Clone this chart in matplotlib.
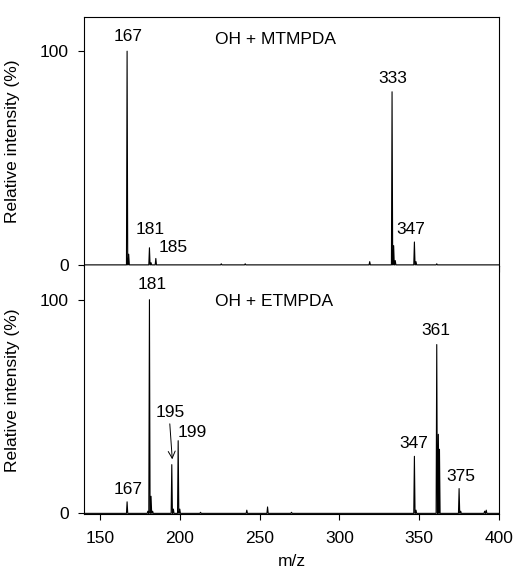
import numpy as np
import matplotlib
matplotlib.use("Agg")
import matplotlib.pyplot as plt

plt.rcParams['font.family'] = ['Liberation Sans', 'DejaVu Sans']
plt.rcParams['font.size'] = 12.5

# OH + MTMPDA peaks (m/z, relative intensity %)
mz_top = [167, 168, 181, 182, 185, 226, 241, 319, 333, 334, 335, 347, 348, 361]
int_top = [100, 5, 8, 1, 3, 0.5, 0.5, 1.5, 81, 9, 2, 10.7, 1.5, 0.5]

# OH + ETMPDA peaks
mz_bot = [167, 180, 181, 182, 183, 195, 196, 199, 200, 213, 242, 255, 270,
          347, 348, 361, 362, 362.7, 375, 376, 391, 392]
int_bot = [5.4, 1, 100, 8, 1, 22.8, 2, 34, 2, 0.5, 1.5, 3, 0.5,
           26.7, 1.5, 79, 37, 30, 11.6, 1, 1, 1.5]

labels_top = ["167", "181", "185", "333", "347"]
labels_bot = ["181", "195", "199", "167", "347", "361", "375"]

x_ticks = [150, 200, 250, 300, 350, 400]
y_ticks = [0, 100]


def profile(mz, inten, lo=140, hi=400, hw=0.4):
    xs = [lo]
    ys = [0]
    for m, h in sorted(zip(mz, inten)):
        xs += [m - hw, m, m + hw]
        ys += [0, h, 0]
    xs.append(hi)
    ys.append(0)
    return xs, ys


fig = plt.figure(figsize=(5.14, 5.76), dpi=100)
left, right = 84 / 514, 499 / 514
ax1 = fig.add_axes([left, 1 - 265.5 / 576, right - left, (265.5 - 17) / 576])
ax2 = fig.add_axes([left, 1 - 514 / 576, right - left, (514 - 265.5) / 576])

for ax, mz, it in [(ax1, mz_top, int_top), (ax2, mz_bot, int_bot)]:
    xs, ys = profile(mz, it)
    ax.plot(xs, ys, color='black', lw=0.8)
    ax.set_xlim(140, 400)
    ax.set_ylim(-0.3, 116)
    ax.set_yticks(y_ticks)
    ax.set_xticks(x_ticks)
    ax.tick_params(direction='out', length=4, width=0.8)
    ax.tick_params(axis='y', pad=7)
    ax.tick_params(axis='x', pad=8)
    for s in ax.spines.values():
        s.set_linewidth(0.8)
    ax.set_ylabel("Relative intensity (%)")
    ax.yaxis.set_label_coords(-0.154, 0.5)

ax1.tick_params(axis='x', labelbottom=False)
ax2.spines['top'].set_visible(False)
ax2.set_xlabel("m/z")
ax2.xaxis.set_label_coords(0.5, -0.16)

# Top panel annotations
ax1.text(167.5, 107, labels_top[0], ha='center', va='center')
ax1.text(181.25, 16.6, labels_top[1], ha='center', va='center')
ax1.text(195.6, 8.2, labels_top[2], ha='center', va='center')
ax1.text(333.75, 87.4, labels_top[3], ha='center', va='center')
ax1.text(345, 16.6, labels_top[4], ha='center', va='center')
ax1.text(221.9, 105.6, "OH + MTMPDA", ha='left', va='center')

# Bottom panel annotations
ax2.text(182.5, 107, labels_bot[0], ha='center', va='center')
ax2.text(193.75, 47, labels_bot[1], ha='center', va='center')
ax2.text(208, 37.7, labels_bot[2], ha='center', va='center')
ax2.text(167.5, 11.2, labels_bot[3], ha='center', va='center')
ax2.text(346.9, 32.6, labels_bot[4], ha='center', va='center')
ax2.text(360.6, 85.6, labels_bot[5], ha='center', va='center')
ax2.text(376.25, 17.2, labels_bot[6], ha='center', va='center')
ax2.text(221.9, 99.2, "OH + ETMPDA", ha='left', va='center')
ax2.annotate("", xy=(195.3, 25.3), xytext=(193.75, 41.9),
             arrowprops=dict(arrowstyle='->', color='black', lw=0.7,
                             shrinkA=0, shrinkB=0))

fig.savefig("out.png", dpi=100)
